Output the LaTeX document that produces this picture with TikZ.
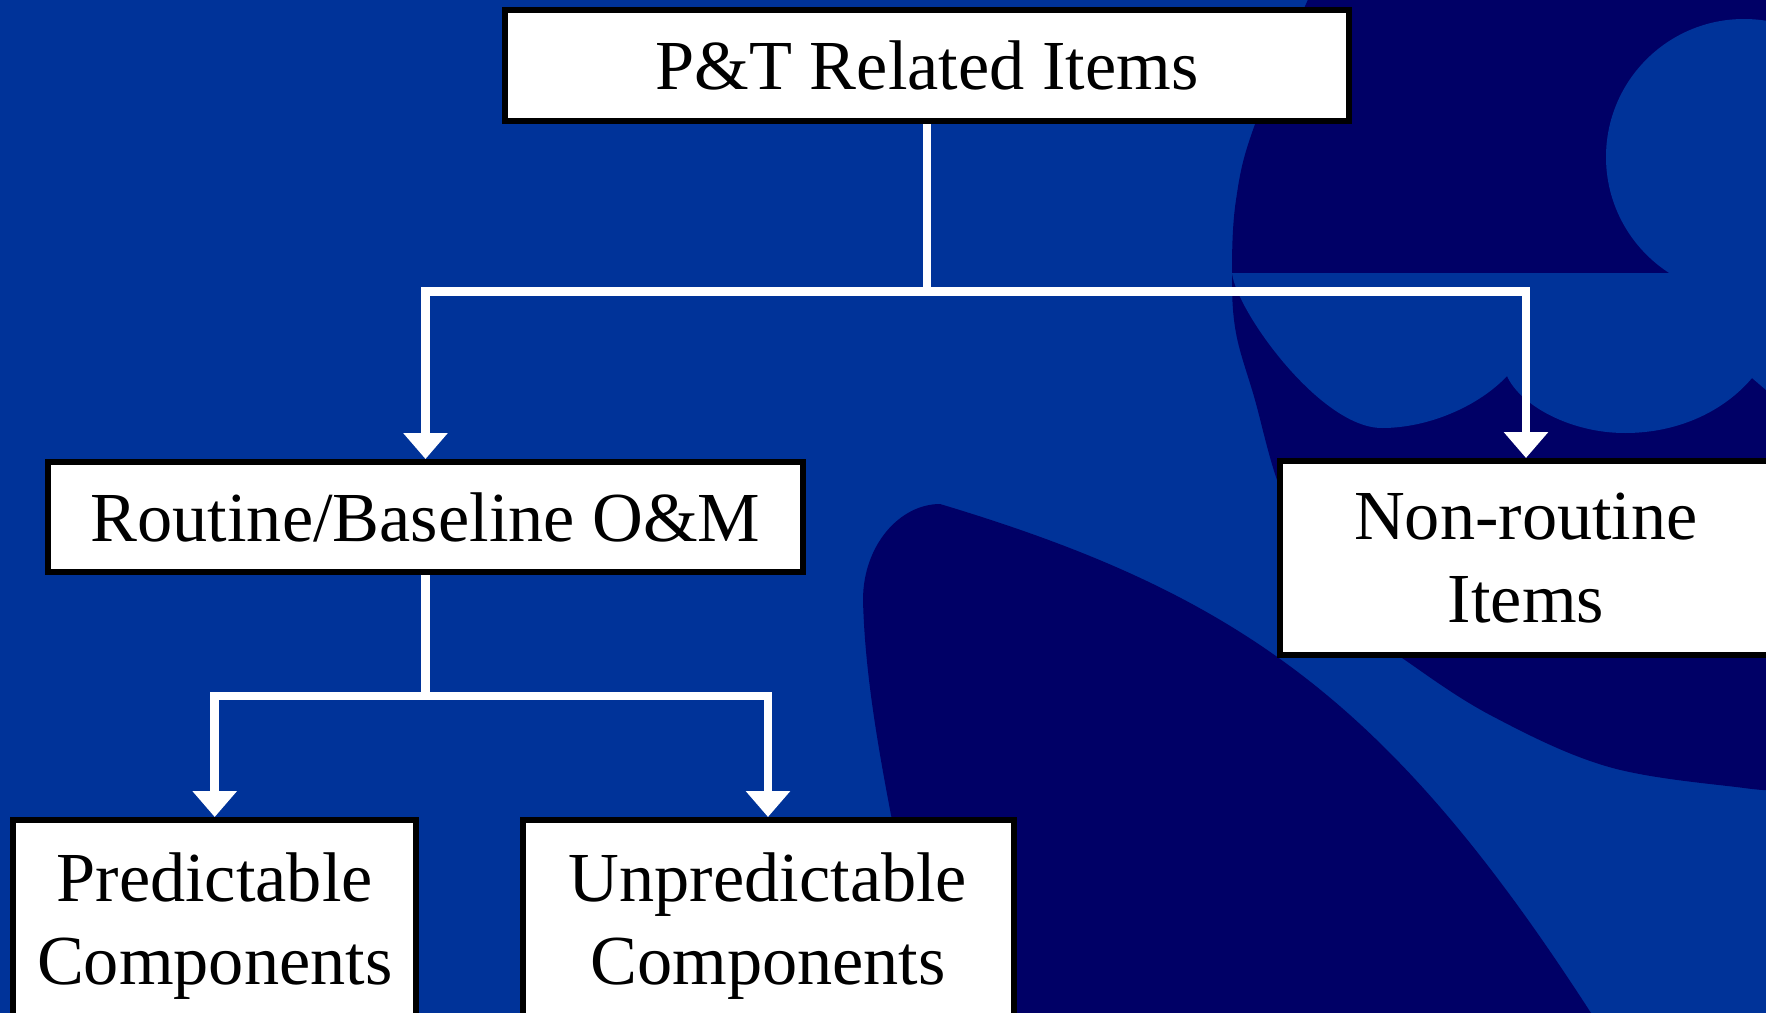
\documentclass[tikz,border=0pt]{standalone}
\usepackage{xcolor}
\usepackage{fontspec}
\setmainfont{Liberation Serif}
\usepackage{tikz}
\usetikzlibrary{arrows.meta}
\definecolor{slideblue}{RGB}{0,51,153}
\definecolor{slidenavy}{RGB}{0,0,102}
\tikzstyle{itembox} = [rectangle, draw=black, fill=white, line width=0.06cm, align=center, inner sep=0pt]
\tikzstyle{arrow} = [white, line width=0.085cm, -{Triangle[width=0.43cm,length=0.26cm]}]

\begin{document}
\begin{tikzpicture}[font=\fontsize{20}{23.6}\selectfont]
	% slide background
	\useasboundingbox (0,0) rectangle (17.66,-10.13);
	\clip (0,0) rectangle (17.66,-10.13);
	\fill [slideblue] (0,0) rectangle (17.66,-10.13);
	\fill [slidenavy] plot[smooth, tension=0.6] coordinates {(13.10,0.05) (12.54,-1.27) (12.36,-2.00) (12.32,-2.73) (12.36,-3.33) (12.55,-4.00) (12.77,-4.80) (13.10,-5.60) (13.60,-6.25) (14.05,-6.60) (14.92,-7.16) (16.09,-7.67) (17.44,-7.88) (17.80,-7.90)} -- (17.80,0.05) -- cycle;
	\fill [slideblue] (17.44,-1.57) circle (1.38);
	\fill [slideblue] (12.32,-2.73) .. controls (12.36,-3.10) and (13.20,-4.28) .. (13.82,-4.28)
		.. controls (14.30,-4.28) and (14.80,-4.05) .. (15.07,-3.76)
		.. controls (15.20,-4.05) and (15.70,-4.33) .. (16.25,-4.33)
		.. controls (16.80,-4.33) and (17.25,-4.10) .. (17.52,-3.78)
		-- (17.66,-3.90) -- (17.80,-3.98) -- (17.80,-2.73) -- cycle;
	\fill [slidenavy] (16.05,-10.35) -- (15.91,-10.13)
		.. controls (13.91,-7.03) and (12.40,-5.94) .. (9.40,-5.04)
		.. controls (9.00,-5.04) and (8.63,-5.45) .. (8.63,-6.00)
		.. controls (8.66,-7.20) and (9.00,-8.50) .. (9.35,-10.40) -- cycle;

	\node (pt) [itembox, minimum width=8.44cm, minimum height=1.11cm] at (9.27,-0.655) {P\&T Related Items};
	\node (routine) [itembox, minimum width=7.55cm, minimum height=1.10cm] at (4.255,-5.17) {Routine/Baseline O\&M};
	\node (nonroutine) [itembox, minimum width=4.92cm, minimum height=1.94cm] at (15.26,-5.58) {Non-routine\\Items};
	\node (predictable) [itembox, minimum width=4.03cm, minimum height=2.12cm] at (2.147,-9.26) {Predictable\\Components};
	\node (unpredictable) [itembox, minimum width=4.91cm, minimum height=2.12cm] at (7.68,-9.26) {Unpredictable\\Components};

	\draw [arrow] (pt.south) -- ++(0,-1.675) -| (routine.north);
	\draw [arrow] (pt.south) -- ++(0,-1.675) -| (nonroutine.north);
	\draw [arrow] (routine.south) -- ++(0,-1.21) -| (predictable.north);
	\draw [arrow] (routine.south) -- ++(0,-1.21) -| (unpredictable.north);
\end{tikzpicture}
\end{document}
